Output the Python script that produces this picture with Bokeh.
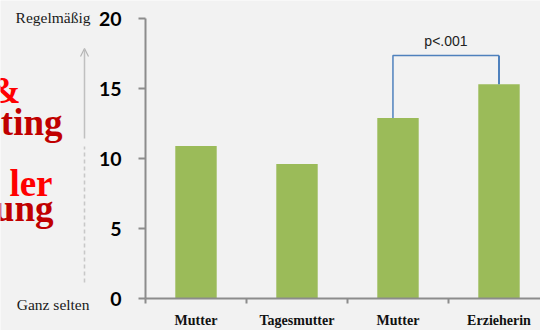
from bokeh.plotting import figure
from bokeh.models import Range1d, FixedTicker, Arrow, OpenHead, Label, ColumnDataSource
from bokeh.core.properties import value
from bokeh.embed import file_html
from bokeh.resources import INLINE

categories = ["Mutter", "Tagesmutter", "Mutter", "Erzieherin"]
values = [10.9, 9.6, 12.9, 15.3]
y_ticks = [0, 5, 10, 15, 20]
p_text = "p<.001"
scale_top = "Regelmäßig"
scale_bottom = "Ganz selten"
title_words = ["&", "ting", "ler", "ung"]
title_colors = ["#ff0000", "#c00000", "#ff0000", "#c00000"]

BG = "#f2f2f2"
W, H = 540, 330
# plot area geometry (pixels): y axis at x=145, value 0 at y=298, value 20 at y=18
AX_X, Y0_PX, Y20_PX, CAT_PX = 145, 298, 18, 101
ppu = (Y0_PX - Y20_PX) / 20.0

p = figure(width=W, height=H, output_backend="svg", toolbar_location=None,
           x_range=Range1d(-AX_X / CAT_PX, (W - AX_X) / CAT_PX),
           y_range=Range1d(-(H - Y0_PX) / ppu, 20 + Y20_PX / ppu),
           min_border=0, min_border_left=0, min_border_right=0, min_border_top=0, min_border_bottom=0,
           background_fill_color=BG, border_fill_color=BG, outline_line_color=None)
p.grid.visible = False

xs = [i + 0.5 for i in range(len(categories))]
src = ColumnDataSource(dict(x=xs, top=values))
p.vbar(x="x", top="top", width=0.41, bottom=0, source=src, fill_color="#9bbb59", line_color=None)

ya = p.yaxis[0]
ya.fixed_location = 0
ya.bounds = (0, 20)
ya.ticker = FixedTicker(ticks=y_ticks)
ya.axis_line_color = "#8c8c8c"
ya.axis_line_width = 2
ya.major_tick_line_color = "#8c8c8c"
ya.major_tick_line_width = 2
ya.major_tick_out = 7
ya.major_tick_in = 0
ya.minor_tick_line_color = None
ya.major_label_text_font = "Lato"
ya.major_label_text_font_style = "bold"
ya.major_label_text_font_size = "19.5px"
ya.major_label_text_color = "#000000"
ya.major_label_standoff = 17

xa = p.xaxis[0]
xa.fixed_location = 0
xa.bounds = (0, 4)
xa.ticker = FixedTicker(ticks=xs, minor_ticks=list(range(len(categories) + 1)))
xa.major_label_overrides = {x: c for x, c in zip(xs, categories)}
xa.axis_line_color = "#8c8c8c"
xa.axis_line_width = 2
xa.major_tick_line_color = None
xa.major_tick_out = 0
xa.major_tick_in = 0
xa.minor_tick_line_color = "#8c8c8c"
xa.minor_tick_line_width = 2
xa.minor_tick_out = 5
xa.minor_tick_in = 0
xa.major_label_text_font = "Liberation Serif"
xa.major_label_text_font_style = "bold"
xa.major_label_text_font_size = "14px"
xa.major_label_text_color = "#111111"
xa.major_label_standoff = 9

# significance bracket
top = max(values) + 2.05
lx, rx = xs[2] - 0.05, xs[3]
p.line([lx, lx, rx], [values[2], top, top], line_color="#4f81bd", line_width=1.5)
p.line([rx, rx], [top, values[3]], line_color="#4f81bd", line_width=2)
p.text(x=[(lx + rx) / 2], y=[top + 0.45], text=[p_text], text_font=value("Liberation Sans"),
       text_font_size="14px", text_align="center", text_baseline="bottom", text_color="#222222")

# left-side annotations, screen units (x from left, y from bottom of canvas)
def sy(py):
    return H - py

for txt, px, py in [(scale_top, 90, 17), (scale_bottom, 89, 304)]:
    p.add_layout(Label(x=px, y=sy(py), x_units="screen", y_units="screen", text=txt,
                       text_font="Liberation Serif", text_font_size="15.5px",
                       text_align="right", text_baseline="middle", text_color="#1a1a1a"))

p.add_layout(Arrow(x_start=84, y_start=sy(138), x_end=84, y_end=sy(48),
                   start_units="screen", end_units="screen",
                   line_color="#c0c0c0", line_width=1.5,
                   end=OpenHead(size=8, line_color="#b4b4b4", line_width=1.2)))
p.add_layout(Arrow(x_start=84, y_start=sy(282), x_end=84, y_end=sy(146),
                   start_units="screen", end_units="screen", end=None,
                   line_color="#c8c8c8", line_width=1.6, line_dash="4 3"))

for txt, col, px, py in zip(title_words, title_colors, [20, 62, 52, 53], [90, 122, 183, 208]):
    p.add_layout(Label(x=px, y=sy(py), x_units="screen", y_units="screen", text=txt,
                       text_font="Liberation Serif", text_font_style="bold",
                       text_font_size="37px", text_align="right", text_baseline="alphabetic",
                       text_color=col))

open("out.html", "w").write(file_html(p, INLINE))
